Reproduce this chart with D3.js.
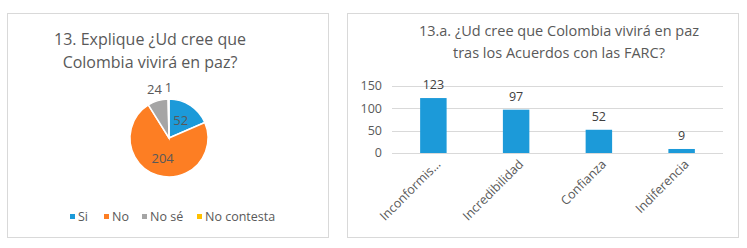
<!DOCTYPE html>
<html>
<head>
<meta charset="utf-8">
<script src="https://cdn.jsdelivr.net/npm/d3@7"></script>
<style>
  body { margin: 0; background: #fff; }
  svg { display: block; font-family: "Open Sans", sans-serif; }
</style>
</head>
<body>
<svg id="chart" width="747" height="248"></svg>
<script>
// pie data (question 13)
const pieCategories = ["Si", "No", "No sé", "No contesta"];
const pieValues = [52, 204, 24, 1];
const pieColors = ["#1c9ad9", "#fd7e23", "#a5a5a5", "#ffc000"];

// bar data (question 13.a)
const barCategories = ["Inconformis...", "Incredibilidad", "Confianza", "Indiferencia"];
const barValues = [123, 97, 52, 9];
const yTicks = [0, 50, 100, 150];

const textColor = "#595959";
const svg = d3.select("#chart");

// panel frames
svg.append("rect").attr("x", 7.5).attr("y", 13.5).attr("width", 321).attr("height", 224)
    .attr("fill", "#fff").attr("stroke", "#d9d9d9");
svg.append("rect").attr("x", 347.5).attr("y", 13.5).attr("width", 391).attr("height", 224)
    .attr("fill", "#fff").attr("stroke", "#d9d9d9");

// ---------- left: pie ----------
const leftTitle = svg.append("text")
    .attr("text-anchor", "middle")
    .attr("fill", textColor)
    .style("font-size", "16px");
leftTitle.append("tspan").attr("x", 150).attr("y", 45).text("13. Explique ¿Ud cree que");
leftTitle.append("tspan").attr("x", 150).attr("y", 68).text("Colombia vivirá en paz?");

const cx = 169, cy = 138, R = 39;
const pie = d3.pie().sort(null).value(d => d)(pieValues);
const arc = d3.arc().innerRadius(0).outerRadius(R);
const gPie = svg.append("g").attr("transform", `translate(${cx},${cy})`);

gPie.selectAll("path")
    .data(pie)
    .enter()
    .append("path")
    .attr("d", arc)
    .attr("fill", (d, i) => pieColors[i])
    .attr("stroke", "#fff")
    .attr("stroke-width", 1.5);

// labels: big slices inside, small slices outside
const inner = d3.arc().innerRadius(R * 1.1).outerRadius(0);
const outer = d3.arc().innerRadius(R * 2.6).outerRadius(0);
gPie.selectAll("text.lbl")
    .data(pie)
    .enter()
    .append("text")
    .attr("class", "lbl")
    .attr("text-anchor", "middle")
    .attr("dy", "0.35em")
    .attr("fill", textColor)
    .style("font-size", "13px")
    .attr("transform", d => {
        const c = (d.value > 30 ? inner : outer).centroid(d);
        return `translate(${c[0]},${c[1]})`;
    })
    .text(d => d.value);

// legend
const legendX = [70, 104, 142, 197];
const legend = svg.append("g").attr("transform", "translate(0,217)");
pieCategories.forEach((c, i) => {
    legend.append("rect")
        .attr("x", legendX[i]).attr("y", -3)
        .attr("width", 5).attr("height", 5)
        .attr("fill", pieColors[i]);
    legend.append("text")
        .attr("x", legendX[i] + 8)
        .attr("dy", "0.35em")
        .attr("fill", textColor)
        .style("font-size", "12.5px")
        .text(c);
});

// ---------- right: bars ----------
const rightTitle = svg.append("text")
    .attr("text-anchor", "middle")
    .attr("fill", textColor)
    .style("font-size", "14.5px");
rightTitle.append("tspan").attr("x", 559).attr("y", 36).text("13.a. ¿Ud cree que Colombia vivirá en paz");
rightTitle.append("tspan").attr("x", 559).attr("y", 58).text("tras los Acuerdos con las FARC?");

const x = d3.scaleBand().domain(barCategories).range([392, 723]);
const y = d3.scaleLinear().domain([0, 150]).range([153, 86]);
const barW = x.bandwidth() * 0.32;

const gGrid = svg.append("g");
gGrid.selectAll("line")
    .data(yTicks)
    .enter()
    .append("line")
    .attr("x1", x.range()[0]).attr("x2", x.range()[1])
    .attr("y1", d => Math.round(y(d)) + 0.5).attr("y2", d => Math.round(y(d)) + 0.5)
    .attr("stroke", "#d9d9d9");

svg.append("g").selectAll("text")
    .data(yTicks)
    .enter()
    .append("text")
    .attr("x", 382)
    .attr("y", d => y(d))
    .attr("dy", "0.35em")
    .attr("text-anchor", "end")
    .attr("fill", textColor)
    .style("font-size", "12.5px")
    .text(d => d);

svg.append("g").selectAll("rect")
    .data(barValues)
    .enter()
    .append("rect")
    .attr("x", (d, i) => x(barCategories[i]) + x.bandwidth() / 2 - barW / 2)
    .attr("y", d => y(d))
    .attr("width", barW)
    .attr("height", d => y(0) - y(d))
    .attr("fill", pieColors[0]);

svg.append("g").selectAll("text")
    .data(barValues)
    .enter()
    .append("text")
    .attr("x", (d, i) => x(barCategories[i]) + x.bandwidth() / 2)
    .attr("y", d => y(d) - 9)
    .attr("text-anchor", "middle")
    .attr("fill", "#404040")
    .style("font-size", "12.5px")
    .text(d => d);

svg.append("g").selectAll("text")
    .data(barCategories)
    .enter()
    .append("text")
    .attr("text-anchor", "end")
    .attr("fill", textColor)
    .style("font-size", "12.5px")
    .attr("transform", d => `translate(${x(d) + x.bandwidth() / 2 + 8},${y(0) + 12}) rotate(-45)`)
    .text(d => d);
</script>
</body>
</html>
